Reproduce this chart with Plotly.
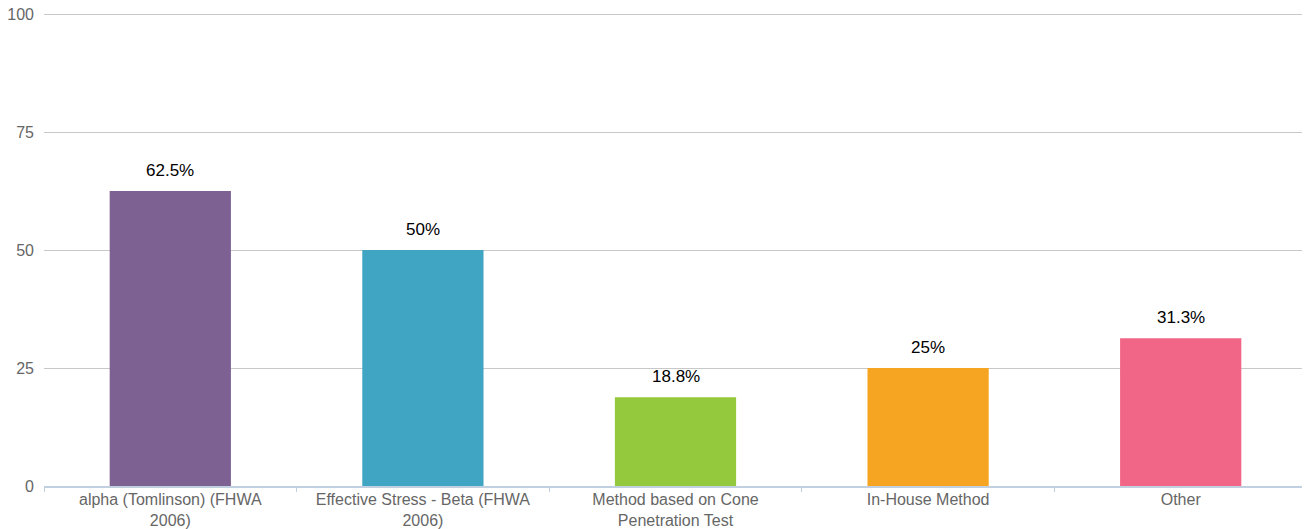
import plotly.graph_objects as go

categories = ["alpha (Tomlinson) (FHWA<br>2006)", "Effective Stress - Beta (FHWA<br>2006)",
              "Method based on Cone<br>Penetration Test", "In-House Method", "Other"]
values = [62.5, 50, 18.8, 25, 31.3]
labels = ["62.5%", "50%", "18.8%", "25%", "31.3%"]
colors = ["#7E6193", "#40A4C3", "#95C93D", "#F5A521", "#F16587"]
yticks = [0, 25, 50, 75, 100]

FONT = "Liberation Sans, Arial, sans-serif"

fig = go.Figure()
fig.add_trace(go.Bar(x=categories, y=values, marker=dict(color=colors, line=dict(width=0)),
                     width=0.48, hoverinfo="skip"))
for c, v, t in zip(categories, values, labels):
    fig.add_annotation(x=c, y=v, text=t, showarrow=False, yanchor="bottom", yshift=9,
                       font=dict(family=FONT, size=17, color="#000"))

fig.update_layout(
    width=1302, height=521,
    margin=dict(l=36, r=3, t=4, b=43, autoexpand=False),
    paper_bgcolor="white", plot_bgcolor="white",
    showlegend=False,
    font=dict(family=FONT, size=16, color="#666666"),
)
fig.update_xaxes(showline=True, linecolor="#C0D0E0", linewidth=2, ticks="outside",
                 tickson="boundaries", ticklen=4, tickcolor="#C0D0E0", tickwidth=1,
                 tickfont=dict(family=FONT, size=16, color="#666666"), showgrid=False,
                 automargin=False, ticklabeloverflow="allow", ticklabelstandoff=-2)
fig.update_yaxes(range=[0, 100.45], tickvals=yticks, showgrid=True, gridcolor="#C8C8C8",
                 gridwidth=1, zeroline=False, ticklabelstandoff=9, automargin=False,
                 ticklabeloverflow="allow",
                 tickfont=dict(family=FONT, size=16, color="#666666"))
fig.write_html("out.html")
